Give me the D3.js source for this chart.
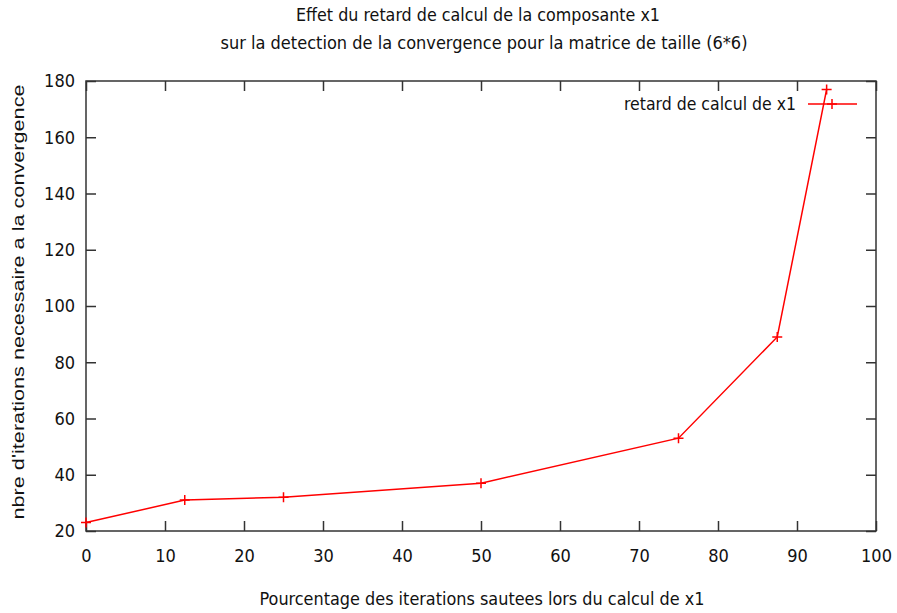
<!DOCTYPE html>
<html>
<head>
<meta charset="utf-8">
<script src="https://cdn.jsdelivr.net/npm/d3@7"></script>
<style>
  body { margin: 0; background: white; }
  .narrow { font-family: "Liberation Sans Narrow", "DejaVu Sans Condensed", "Liberation Sans", sans-serif; }
</style>
</head>
<body>
<div id="vis"></div>
<script>
var width = 897;
var height = 613;

// data
var pourcentage = [0, 12.5, 25, 50, 75, 87.5, 93.75];
var iterations = [23, 31, 32, 37, 53, 89, 177];
var xTicks = [0, 10, 20, 30, 40, 50, 60, 70, 80, 90, 100];
var yTicks = [20, 40, 60, 80, 100, 120, 140, 160, 180];
var serieName = "retard de calcul de x1";

var plotLeft = 86, plotRight = 876, plotTop = 81, plotBottom = 531;

var svg = d3.select("#vis")
  .append("svg")
  .attr("width", width)
  .attr("height", height)
  .style("background-color", "white");

var xScale = d3.scaleLinear().domain([0, 100]).range([plotLeft, plotRight]);
var yScale = d3.scaleLinear().domain([20, 180]).range([plotBottom, plotTop]);

var axisColor = "#333";

function styleAxis(g, showText) {
  g.select(".domain").remove();
  g.selectAll("line").style("stroke", axisColor).style("stroke-width", 1.5);
  g.selectAll("text")
    .attr("class", "narrow")
    .style("font-size", "18px")
    .style("fill", "#111")
    .style("display", showText ? null : "none");
}

// bottom axis
svg.append("g")
  .attr("transform", `translate(0, ${plotBottom})`)
  .call(d3.axisBottom(xScale).tickValues(xTicks).tickSizeInner(-10).tickPadding(18).tickFormat(d3.format("d")))
  .call(g => styleAxis(g, true));

// top mirror
svg.append("g")
  .attr("transform", `translate(0, ${plotTop})`)
  .call(d3.axisTop(xScale).tickValues(xTicks).tickSizeInner(-10))
  .call(g => styleAxis(g, false));

// left axis
svg.append("g")
  .attr("transform", `translate(${plotLeft}, 0)`)
  .call(d3.axisLeft(yScale).tickValues(yTicks).tickSizeInner(-10).tickPadding(11).tickFormat(d3.format("d")))
  .call(g => styleAxis(g, true));

// right mirror
svg.append("g")
  .attr("transform", `translate(${plotRight}, 0)`)
  .call(d3.axisRight(yScale).tickValues(yTicks).tickSizeInner(-10))
  .call(g => styleAxis(g, false));

// frame
svg.append("rect")
  .attr("x", plotLeft).attr("y", plotTop)
  .attr("width", plotRight - plotLeft).attr("height", plotBottom - plotTop)
  .attr("fill", "none")
  .attr("stroke", axisColor)
  .attr("stroke-width", 1.5);

// series
var points = pourcentage.map((p, i) => [p, iterations[i]]);
var line = d3.line().x(d => xScale(d[0])).y(d => yScale(d[1]));

svg.append("path")
  .datum(points)
  .attr("d", line)
  .attr("fill", "none")
  .attr("stroke", "#ff0000")
  .attr("stroke-width", 1.5);

var plus = "M-5,0 L5,0 M0,-5 L0,5";
svg.selectAll(".pt")
  .data(points)
  .join("path")
  .attr("class", "pt")
  .attr("transform", d => `translate(${xScale(d[0])}, ${yScale(d[1])})`)
  .attr("d", plus)
  .attr("stroke", "#ff0000")
  .attr("stroke-width", 1.5);

// legend
var legY = 104;
svg.append("text")
  .attr("class", "narrow")
  .attr("x", 796).attr("y", legY + 6)
  .attr("text-anchor", "end")
  .attr("textLength", 172)
  .attr("lengthAdjust", "spacingAndGlyphs")
  .style("font-size", "18px")
  .style("fill", "#111")
  .text(serieName);
svg.append("line")
  .attr("x1", 808).attr("x2", 857)
  .attr("y1", legY).attr("y2", legY)
  .attr("stroke", "#ff0000").attr("stroke-width", 1.5);
svg.append("path")
  .attr("transform", `translate(832, ${legY})`)
  .attr("d", plus)
  .attr("stroke", "#ff0000").attr("stroke-width", 1.5);

// title
function narrowText(x, y, len, txt) {
  return svg.append("text")
    .attr("class", "narrow")
    .attr("x", x).attr("y", y)
    .attr("text-anchor", "middle")
    .attr("textLength", len)
    .attr("lengthAdjust", "spacingAndGlyphs")
    .style("font-size", "18px")
    .style("fill", "#111")
    .text(txt);
}
narrowText(478, 21, 364, "Effet du retard de calcul de la composante x1");
narrowText(484, 49, 527, "sur la detection de la convergence pour la matrice de taille (6*6)");

// x label
narrowText(482, 605, 445, "Pourcentage des iterations sautees lors du calcul de x1");

// y label
svg.append("text")
  .attr("transform", `translate(24, 302) rotate(-90)`)
  .attr("text-anchor", "middle")
  .attr("textLength", 435)
  .attr("lengthAdjust", "spacingAndGlyphs")
  .style("font-family", "Liberation Sans, Arial, sans-serif")
  .style("font-size", "17px")
  .style("fill", "#111")
  .text("nbre d'iterations necessaire a la convergence");
</script>
</body>
</html>
